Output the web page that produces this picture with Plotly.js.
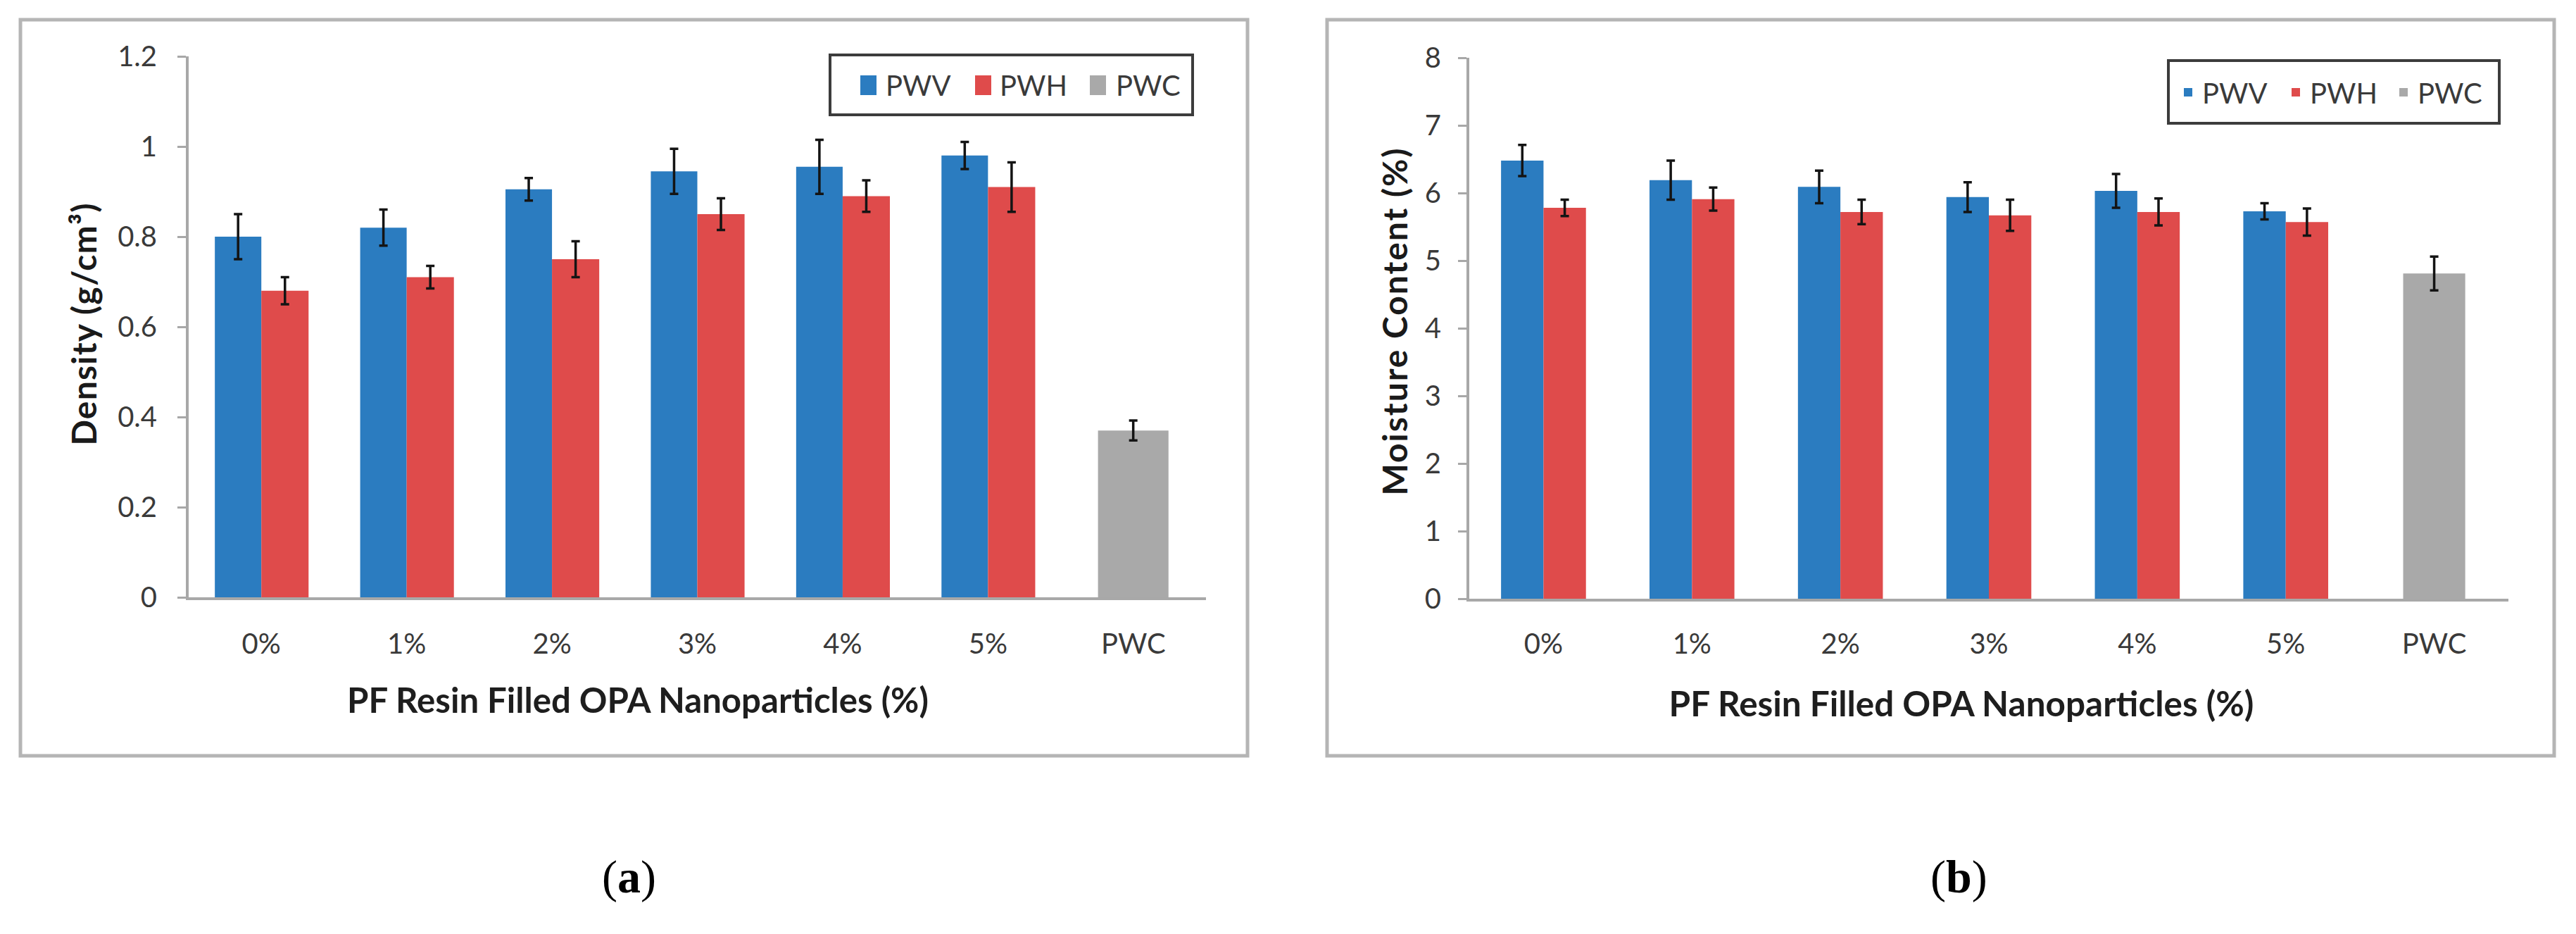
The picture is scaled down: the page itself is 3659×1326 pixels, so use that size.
<!DOCTYPE html>
<html>
<head>
<meta charset="utf-8">
<script src="https://cdn.plot.ly/plotly-3.0.1.min.js"></script>
<style>
html,body{margin:0;padding:0;background:#fff;overflow:hidden;}
#chart{width:3659px;height:1326px;}
</style>
</head>
<body>
<div id="chart"></div>
<script>
// ---------- data ----------
const pfCategories = ['0%', '1%', '2%', '3%', '4%', '5%'];
const controlCategory = ['PWC'];
const seriesNames = ['PWV', 'PWH', 'PWC'];

const densityPWV    = [0.80, 0.82, 0.905, 0.945, 0.955, 0.98];
const densityPWVErr = [0.05, 0.04, 0.025, 0.05, 0.06, 0.03];
const densityPWH    = [0.68, 0.71, 0.75, 0.85, 0.89, 0.91];
const densityPWHErr = [0.03, 0.025, 0.04, 0.035, 0.035, 0.055];
const densityPWC    = [0.37];
const densityPWCErr = [0.022];

const moisturePWV    = [6.48, 6.19, 6.09, 5.94, 6.03, 5.73];
const moisturePWVErr = [0.23, 0.29, 0.24, 0.22, 0.25, 0.12];
const moisturePWH    = [5.78, 5.91, 5.72, 5.67, 5.72, 5.57];
const moisturePWHErr = [0.12, 0.17, 0.18, 0.23, 0.20, 0.20];
const moisturePWC    = [4.81];
const moisturePWCErr = [0.25];

const xTitle = 'PF Resin Filled OPA Nanoparticles (%)';
const yTitleA = 'Density (g/cm³)';
const yTitleB = 'Moisture Content (%)';

// ---------- style ----------
const W = 3659, H = 1326;
const colors = {PWV: '#2b7cc0', PWH: '#df4b4b', PWC: '#a9a9a9'};
const errStyle = {color: '#141414', thickness: 3.5, width: 6};
const FONT = 'Lato, "Open Sans", sans-serif';
const px = v => v / W;
const py = v => 1 - v / H;

function bar(x, y, err, name, xa, ya, legend, offset, width) {
  return {
    type: 'bar', x: x, y: y, name: name,
    xaxis: xa, yaxis: ya, legend: legend,
    offset: offset, width: width,
    marker: {color: colors[name], line: {width: 0}},
    error_y: Object.assign({type: 'data', array: err, visible: true}, errStyle),
    showlegend: true, hoverinfo: 'x+y'
  };
}

const traces = [
  bar(pfCategories, densityPWV, densityPWVErr, seriesNames[0], 'x', 'y', 'legend', -0.32, 0.32),
  bar(pfCategories, densityPWH, densityPWHErr, seriesNames[1], 'x', 'y', 'legend', 0, 0.325),
  bar(controlCategory, densityPWC, densityPWCErr, seriesNames[2], 'x', 'y', 'legend', -0.243, 0.485),
  bar(pfCategories, moisturePWV, moisturePWVErr, seriesNames[0], 'x2', 'y2', 'legend2', -0.286, 0.286),
  bar(pfCategories, moisturePWH, moisturePWHErr, seriesNames[1], 'x2', 'y2', 'legend2', 0, 0.286),
  bar(controlCategory, moisturePWC, moisturePWCErr, seriesNames[2], 'x2', 'y2', 'legend2', -0.209, 0.418)
];

const allCats = pfCategories.concat(controlCategory);

function xAxis(domain, anchor) {
  return {
    domain: domain, anchor: anchor,
    type: 'category', categoryorder: 'array', categoryarray: allCats,
    range: [-0.5, 6.5],
    showline: true, linecolor: '#a8a8a8', linewidth: 4,
    ticks: '', showgrid: false, zeroline: false,
    tickfont: {family: FONT, size: 40, color: '#3a3a3a'},
    ticklabelstandoff: 34,
    title: {text: xTitle, font: {family: FONT, size: 44, color: '#1e1e1e', weight: 'bold'}, standoff: 42},
    automargin: false, fixedrange: true
  };
}
function yAxis(domain, anchor, range, dtick, title) {
  return {
    domain: domain, anchor: anchor, range: range, dtick: dtick, tick0: 0,
    showline: true, linecolor: '#a8a8a8', linewidth: 4,
    ticks: 'outside', ticklen: 12, tickwidth: 3, tickcolor: '#a8a8a8',
    showgrid: false, zeroline: false,
    tickfont: {family: FONT, size: 40, color: '#3a3a3a'},
    ticklabelstandoff: 30,
    title: {text: title, font: {family: FONT, size: 48, color: '#1a1a1a', weight: 'bold'}, standoff: 8},
    automargin: false, fixedrange: true
  };
}

function frame(x0, x1) {
  return {type: 'rect', xref: 'paper', yref: 'paper',
    x0: px(x0), x1: px(x1), y0: py(1073), y1: py(28),
    line: {color: '#b5b5b5', width: 5}, fillcolor: 'rgba(0,0,0,0)', layer: 'below'};
}
function legendBox(x0, x1, y0, y1) {
  return {type: 'rect', xref: 'paper', yref: 'paper',
    x0: px(x0), x1: px(x1), y0: py(y1), y1: py(y0),
    line: {color: '#3c3c3c', width: 4}, fillcolor: '#ffffff', layer: 'below'};
}

const legendBase = {
  orientation: 'h', xanchor: 'left', yanchor: 'middle',
  bgcolor: 'rgba(0,0,0,0)', borderwidth: 0,
  font: {family: FONT, size: 40, color: '#3a3a3a'},
  itemwidth: 30, traceorder: 'normal', itemclick: false, itemdoubleclick: false
};

const layout = {
  width: W, height: H,
  margin: {l: 0, r: 0, t: 0, b: 0, pad: 0},
  paper_bgcolor: '#ffffff', plot_bgcolor: '#ffffff',
  barmode: 'overlay',
  showlegend: true,
  xaxis: xAxis([px(268), px(1713)], 'y'),
  yaxis: yAxis([py(848), py(80)], 'x', [0, 1.2], 0.2, yTitleA),
  xaxis2: xAxis([px(2087), px(3563)], 'y2'),
  yaxis2: yAxis([py(850), py(82)], 'x2', [0, 8], 1, yTitleB),
  legend: Object.assign({}, legendBase, {x: px(1200), y: py(121), entrywidth: 118}),
  legend2: Object.assign({}, legendBase, {x: px(3088), y: py(131), entrywidth: 108}),
  shapes: [frame(29, 1772), frame(1885, 3628),
           legendBox(1179, 1694, 78, 163), legendBox(3080, 3550, 86, 175)],
  annotations: [
    {text: '(<b>a</b>)', xref: 'paper', yref: 'paper', x: px(893), y: py(1245),
     xanchor: 'center', yanchor: 'middle', showarrow: false,
     font: {family: '"Liberation Serif", "Times New Roman", serif', size: 66, color: '#000'}},
    {text: '(<b>b</b>)', xref: 'paper', yref: 'paper', x: px(2782), y: py(1245),
     xanchor: 'center', yanchor: 'middle', showarrow: false,
     font: {family: '"Liberation Serif", "Times New Roman", serif', size: 66, color: '#000'}}
  ]
};

// ---------- fine placement of text, matching the original figure (pixel targets) ----------
const textTargets = {
  ytitle:  {cx: 118,  cy: 460, len: 344, mode: 'spacing'},
  y2title: {cx: 1980, cy: 456, len: 493, mode: 'spacing'},
  xtitle:  {cx: 906,  cy: 993, len: 826, mode: 'size'},
  x2title: {cx: 2786, cy: 998, len: 831, mode: 'size'},
  ytickRight: 223, y2tickRight: 2047, xtickCy: 913,
  legend:  {cy: 121, marker: [1222, 1385, 1548], text: [1258, 1420, 1585]},
  legend2: {cy: 131, marker: [3110, 3263, 3414], text: [3142, 3293, 3447]},
  swatch: 'M11.5,14H-11.5V-14H11.5Z'
};

function shift(el, dx, dy) {
  const prev = el.getAttribute('transform') || '';
  el.setAttribute('transform', 'translate(' + dx + ',' + dy + ') ' + prev);
}
function box(el) { return el.getBoundingClientRect(); }
function centerAt(el, cx, cy) {
  const r = box(el);
  shift(el, cx == null ? 0 : cx - (r.left + r.width / 2), cy == null ? 0 : cy - (r.top + r.height / 2));
}
function fitLength(el, len, mode) {
  const w = el.getComputedTextLength();
  if (mode === 'size') {
    const fs = parseFloat(window.getComputedStyle(el).fontSize);
    el.style.fontSize = (fs * len / w) + 'px';
  } else {
    const n = el.textContent.length;
    el.style.letterSpacing = ((len - w) / (n - 1)) + 'px';
  }
}

function placeAxesText(gd) {
  ['ytitle', 'y2title', 'xtitle', 'x2title'].forEach(function (k) {
    try {
      const el = gd.querySelector('text.' + k);
      if (!el) return;
      const t = textTargets[k];
      fitLength(el, t.len, t.mode);
      centerAt(el, t.cx, t.cy);
    } catch (e) {}
  });
  [['ytick', textTargets.ytickRight], ['y2tick', textTargets.y2tickRight]].forEach(function (p) {
    const els = Array.from(gd.querySelectorAll('g.' + p[0] + ' text'));
    if (!els.length) return;
    const right = Math.max.apply(null, els.map(e => box(e).right));
    els.forEach(e => shift(e, p[1] - right, 0));
  });
  ['xtick', 'x2tick'].forEach(function (cls) {
    gd.querySelectorAll('g.' + cls + ' text').forEach(e => centerAt(e, null, textTargets.xtickCy));
  });
}

// legend entries: enlarge swatches and place entries like the original (runs again if a legend is drawn late)
function placeLegends(gd) {
  const texts = Array.from(gd.querySelectorAll('text.legendtext'))
    .filter(tx => !tx.hasAttribute('data-placed'))
    .map(tx => ({tx: tx, left: box(tx).left}));
  ['legend', 'legend2'].forEach(function (id) {
    const t = textTargets[id];
    const mine = texts.filter(o => (id === 'legend2') === (o.left > W / 2))
                      .sort((a, b) => a.left - b.left);
    if (mine.length !== t.marker.length) return;
    mine.forEach(function (o, i) {
      try {
        const tx = o.tx;
        const item = tx.parentNode;
        const sw = item.querySelector('path.legendbar') || item.querySelector('g.legendpoints path');
        if (sw) {
          sw.setAttribute('d', textTargets.swatch);
          sw.style.strokeWidth = '0px';
          const r = box(sw);
          shift(sw, t.marker[i] - r.left, t.cy - (r.top + r.height / 2));
        }
        const r2 = box(tx);
        shift(tx, t.text[i] - r2.left, t.cy - (r2.top + r2.height / 2));
        tx.setAttribute('data-placed', '1');
      } catch (e) {}
    });
  });
}

Plotly.newPlot('chart', traces, layout, {staticPlot: true, displayModeBar: false}).then(function (gd) {
  placeAxesText(gd);
  placeLegends(gd);
  requestAnimationFrame(() => placeLegends(gd));
  setTimeout(() => placeLegends(gd), 60);
  setTimeout(() => placeLegends(gd), 300);
});
</script>
</body>
</html>
